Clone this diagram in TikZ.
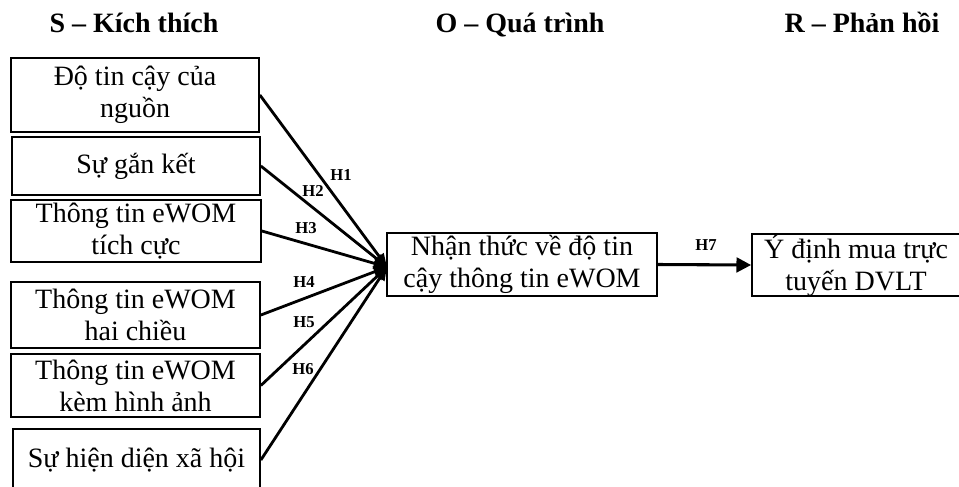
\documentclass[tikz,border=0pt]{standalone}
\usepackage{fontspec}
\setmainfont{Liberation Serif}
\usetikzlibrary{arrows.meta}
\begin{document}
\begin{tikzpicture}[x=0.75pt,y=-0.75pt,
  box/.style={draw, line width=1.3pt, inner sep=0pt, align=center,
    font=\fontsize{21}{24}\selectfont},
  sz/.style 2 args={minimum width=#1*0.75pt, minimum height=#2*0.75pt},
  title/.style={font=\bfseries\fontsize{21}{24}\selectfont, anchor=base, inner sep=0pt},
  hyp/.style={font=\bfseries\fontsize{12.5}{14}\selectfont, inner sep=0pt},
  link/.style={line width=2.1pt, -{Triangle[length=10pt,width=8pt]}},
]
\useasboundingbox (0,0) rectangle (959,486);

% column headings
\node[title] (hs) at (134,32) {S – Kích thích};
\node[title] (ho) at (520,32) {O – Quá trình};
\node[title] (hr) at (862,32) {R – Phản hồi};

% stimulus boxes
\node[box, sz={248}{74}] (s1) at (135,95)    {Độ tin cậy của\\nguồn};
\node[box, sz={248}{58}] (s2) at (136,166)   {Sự gắn kết};
\node[box, sz={250}{62}] (s3) at (136,231)   {Thông tin eWOM\\tích cực};
\node[box, sz={249}{66}] (s4) at (135.5,315) {Thông tin eWOM\\hai chiều};
\node[box, sz={249}{63}] (s5) at (135.5,385.5) {Thông tin eWOM\\kèm hình ảnh};
\node[box, sz={247}{62}] (s6) at (136.5,460) {Sự hiện diện xã hội};

% organism and response boxes
\node[box, sz={270}{63}] (o) at (522,264.5) {Nhận thức về độ tin\\cậy thông tin eWOM};
\node[box, sz={208}{62}] (r) at (856,265)   {Ý định mua trực\\tuyến DVLT};

% common end point of the hypothesis arrows
\coordinate (hub) at (387,267);

\draw[link] (s1.east) -- (hub);
\draw[link] (s2.east) -- (hub);
\draw[link] (s3.east) -- (hub);
\draw[link] (s4.east) -- (hub);
\draw[link] (s5.east) -- (hub);
\draw[link] (s6.east) -- (hub);
\draw[line width=2.3pt, -{Triangle[length=11pt,width=11pt]}] (o.east) -- (r.west);

% hypothesis labels
\node[hyp] (h1) at (341,175) {H1};
\node[hyp] (h2) at (313,191) {H2};
\node[hyp] (h3) at (306,228) {H3};
\node[hyp] (h4) at (304,282) {H4};
\node[hyp] (h5) at (304,322) {H5};
\node[hyp] (h6) at (303,369) {H6};
\node[hyp] (h7) at (706,245) {H7};
\end{tikzpicture}
\end{document}
